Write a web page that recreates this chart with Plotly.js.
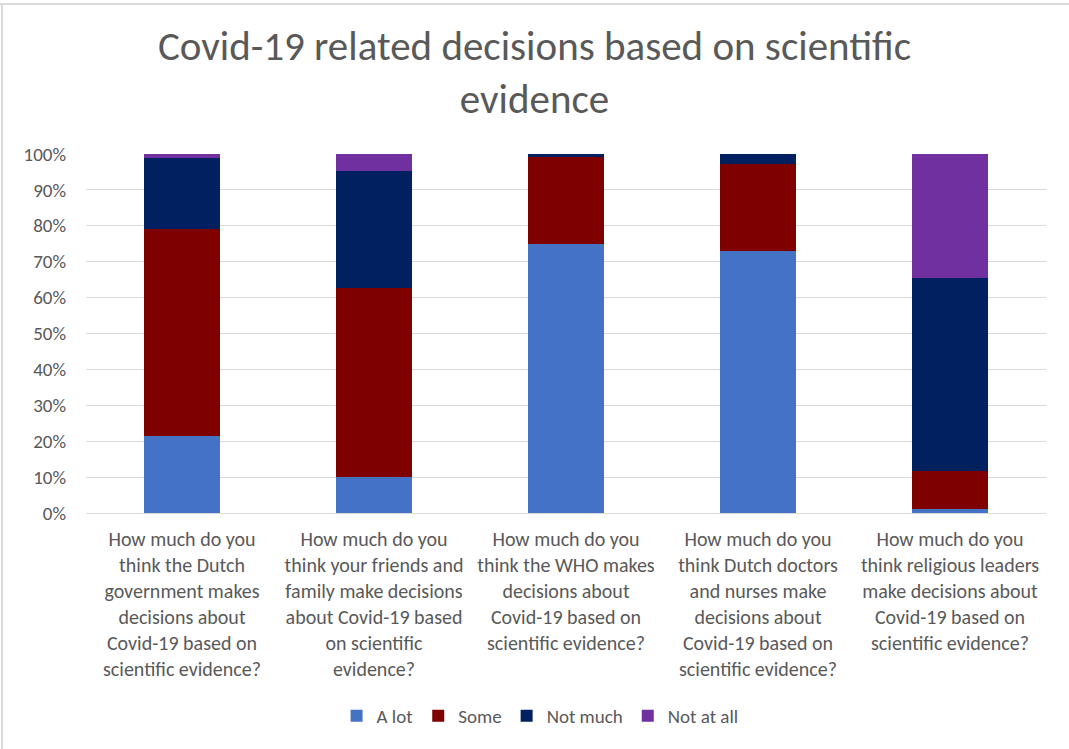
<!DOCTYPE html>
<html>
<head>
<meta charset="utf-8">
<script src="https://cdn.plot.ly/plotly-3.0.1.min.js"></script>
<style>
  html, body { margin: 0; padding: 0; background: #ffffff; }
  #wrap { position: relative; width: 1069px; height: 749px; }
  #chart { width: 1069px; height: 749px; }
  .edge { position: absolute; background: #d9d9d9; }
</style>
</head>
<body>
<div id="wrap">
  <div id="chart"></div>
  <div class="edge" style="left:0; top:3px; width:1069px; height:2px;"></div>
  <div class="edge" style="left:1px; top:3px; width:2px; height:746px;"></div>
</div>
<script>
// Survey questions (x categories), wrapped the way they are shown under the bars
const questions = [
  "How much do you<br>think the Dutch<br>government makes<br>decisions about<br>Covid-19 based on<br>scientific evidence?",
  "How much do you<br>think your friends and<br>family make decisions<br>about Covid-19 based<br>on scientific<br>evidence?",
  "How much do you<br>think the WHO makes<br>decisions about<br>Covid-19 based on<br>scientific evidence?",
  "How much do you<br>think Dutch doctors<br>and nurses make<br>decisions about<br>Covid-19 based on<br>scientific evidence?",
  "How much do you<br>think religious leaders<br>make decisions about<br>Covid-19 based on<br>scientific evidence?"
];

// Share of answers per question (percent)
const aLot     = [21.5, 10.0, 75.0, 73.0,  1.0];
const some     = [57.5, 52.7, 24.1, 24.2, 10.7];
const notMuch  = [20.0, 32.6,  0.9,  2.8, 53.8];
const notAtAll = [ 1.0,  4.7,  0.0,  0.0, 34.5];

const seriesNames  = ["A lot", "Some", "Not much", "Not at all"];
const seriesColors = ["#4472c4", "#7f0000", "#002060", "#7030a0"];
const seriesValues = [aLot, some, notMuch, notAtAll];

const yTickVals = [0, 10, 20, 30, 40, 50, 60, 70, 80, 90, 100];
const yTickText = ["0%", "10%", "20%", "30%", "40%", "50%", "60%", "70%", "80%", "90%", "100%"];

const FONT = "Carlito, Lato, 'Open Sans', sans-serif";
const GREY = "#595959";

const traces = seriesNames.map((name, i) => ({
  type: "bar",
  name: name,
  x: questions,
  y: seriesValues[i],
  marker: { color: seriesColors[i] },
  hoverinfo: "skip"
}));

const layout = {
  width: 1069,
  height: 749,
  barmode: "stack",
  bargap: 0.6,
  paper_bgcolor: "#ffffff",
  plot_bgcolor: "#ffffff",
  margin: { l: 86, r: 23, t: 154, b: 236 },
  font: { family: FONT, color: GREY },
  title: {
    text: "Covid-19 related decisions based on scientific<br>evidence",
    font: { family: FONT, size: 41, color: GREY },
    x: 0.5,
    xanchor: "center",
    y: 0.92,
    yanchor: "top"
  },
  xaxis: {
    type: "category",
    tickfont: { family: FONT, size: 20, color: GREY },
    ticks: "",
    showline: false,
    showgrid: false,
    automargin: false,
    tickangle: 0,
    ticklabelstandoff: 12
  },
  yaxis: {
    range: [0, 100],
    tickvals: yTickVals,
    ticktext: yTickText,
    tickfont: { family: FONT, size: 19, color: GREY },
    showgrid: true,
    gridcolor: "#d9d9d9",
    gridwidth: 1,
    zeroline: true,
    zerolinecolor: "#d9d9d9",
    zerolinewidth: 1,
    showline: false,
    ticks: "",
    ticklabelstandoff: 19,
    automargin: false,
    fixedrange: true
  },
  showlegend: true,
  legend: {
    orientation: "h",
    x: 0.473,
    xanchor: "center",
    y: -0.565,
    yanchor: "middle",
    font: { family: FONT, size: 19, color: GREY },
    itemwidth: 30,
    traceorder: "normal"
  }
};

Plotly.newPlot("chart", traces, layout, { displayModeBar: false, staticPlot: true });
</script>
</body>
</html>
